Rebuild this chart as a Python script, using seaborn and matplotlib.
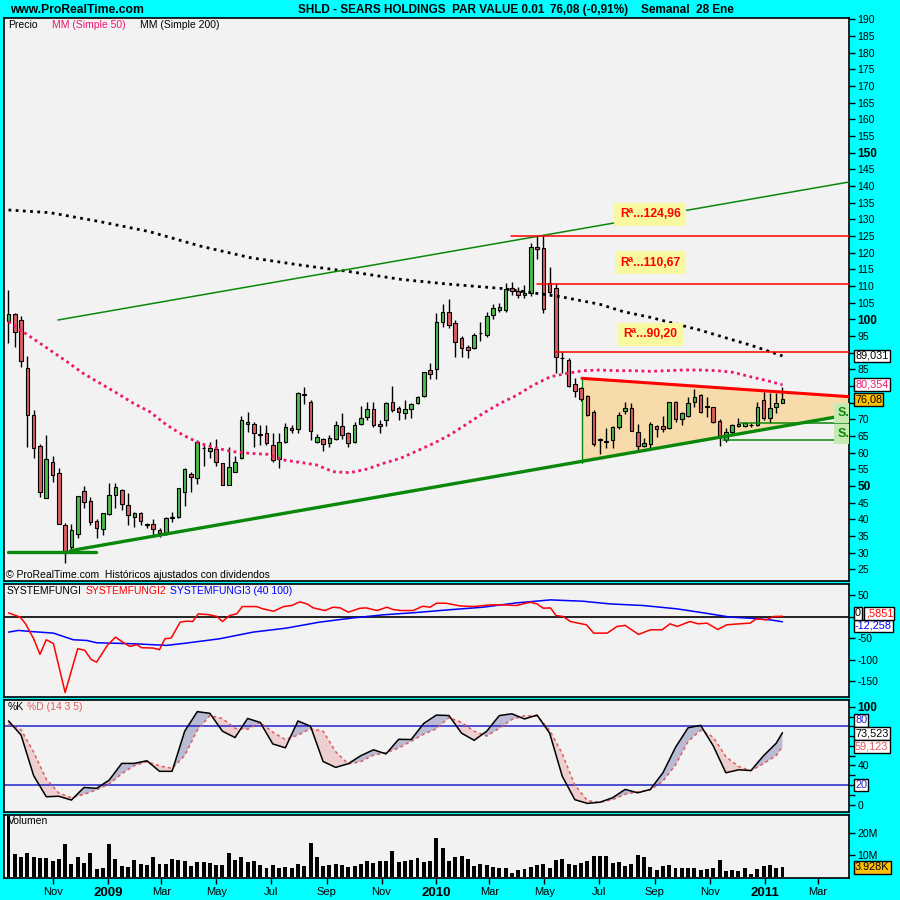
import numpy as np
import pandas as pd
import matplotlib
matplotlib.use("Agg")
import matplotlib.pyplot as plt
import matplotlib.dates as mdates
import seaborn as sns

# ---------------- data ----------------
first_week = "2008-09-12"

opens = [99.6, 101.6, 99.7, 85.3, 71.2, 62.0, 46.3, 57.3, 53.8, 38.2,
         31.8, 35.5, 48.5, 45.5, 39.5, 37.0, 41.5, 47.2, 48.7, 44.2,
         40.6, 41.8, 38.4, 38.5, 36.8, 35.8, 40.5, 40.8, 48.3, 53.5,
         52.3, 61.3, 60.5, 61.0, 56.8, 50.4, 54.1, 58.3, 68.5, 68.5,
         65.3, 65.8, 62.2, 58.1, 63.1, 67.3, 67.0, 77.4, 75.1, 63.3,
         64.0, 63.0, 64.0, 67.9, 65.8, 63.1, 68.5, 70.6, 73.0, 68.5,
         69.8, 75.2, 73.5, 71.8, 73.0, 74.8, 77.0, 84.8, 85.0, 99.3,
         102.1, 98.8, 94.3, 91.8, 91.3, 95.8, 95.3, 101.3, 102.8, 102.8,
         109.3, 108.6, 107.2, 107.8, 121.6, 121.3, 111.0, 109.3, 88.3, 87.8,
         80.5, 79.3, 77.1, 72.3, 63.8, 63.3, 63.8, 67.8, 72.5, 73.3,
         66.3, 62.1, 62.6, 68.0, 68.0, 67.3, 75.1, 70.0, 71.1, 75.1,
         77.3, 73.6, 73.6, 69.6, 63.8, 66.1, 68.0, 68.0, 68.2, 68.3,
         75.8, 70.3, 73.6, 75.0]
highs = [108.8, 101.8, 101.0, 89.0, 72.8, 62.6, 65.3, 59.0, 55.3, 39.0,
         38.5, 46.9, 50.0, 46.8, 40.0, 42.0, 50.8, 50.8, 49.0, 47.8,
         42.3, 42.3, 39.0, 40.0, 37.3, 40.6, 42.1, 49.3, 55.3, 54.3,
         63.8, 62.3, 63.3, 64.0, 56.8, 61.8, 58.9, 71.0, 72.2, 69.1,
         68.3, 68.2, 65.8, 65.8, 68.8, 68.2, 78.3, 79.6, 75.8, 65.6,
         64.3, 65.3, 69.5, 71.8, 66.3, 69.3, 74.0, 75.3, 75.3, 69.8,
         75.3, 80.0, 74.0, 75.8, 74.8, 77.0, 84.3, 86.8, 101.8, 104.5,
         106.0, 99.8, 95.0, 92.3, 96.0, 99.3, 102.3, 104.5, 104.8, 110.8,
         111.3, 109.8, 110.3, 122.8, 125.0, 125.2, 115.8, 110.8, 90.5, 88.3,
         82.3, 79.6, 77.3, 72.8, 64.3, 67.3, 68.0, 72.3, 75.3, 74.8,
         68.6, 64.3, 69.3, 68.2, 71.0, 75.3, 75.6, 72.3, 76.6, 79.0,
         77.6, 76.6, 73.8, 70.0, 67.3, 68.6, 70.3, 68.8, 69.0, 75.3,
         78.3, 77.8, 77.8, 79.8]
lows = [93.0, 91.8, 85.8, 61.8, 58.3, 46.8, 46.3, 51.3, 38.5, 27.0,
        30.6, 34.3, 43.5, 38.3, 34.3, 35.3, 41.3, 43.5, 42.8, 38.3,
        37.8, 38.3, 37.3, 34.8, 34.8, 35.3, 39.3, 40.3, 44.1, 48.3,
        50.6, 56.1, 58.3, 56.1, 50.2, 50.2, 54.1, 58.1, 66.3, 61.6,
        62.3, 62.3, 57.1, 55.5, 62.8, 66.0, 66.0, 74.6, 63.8, 62.8,
        60.6, 61.8, 63.8, 64.0, 61.8, 62.8, 68.3, 69.8, 67.8, 65.8,
        68.1, 72.3, 69.8, 70.0, 70.3, 74.6, 76.8, 82.1, 82.1, 97.6,
        97.5, 88.8, 88.8, 88.5, 91.0, 93.6, 94.8, 100.0, 102.3, 102.3,
        107.3, 106.5, 106.5, 107.0, 118.0, 102.0, 107.3, 84.0, 84.0, 79.8,
        76.8, 75.6, 71.0, 62.1, 59.6, 61.3, 61.3, 67.0, 71.6, 66.6,
        60.6, 61.6, 61.3, 64.6, 66.3, 67.0, 69.3, 68.3, 70.8, 73.6,
        72.0, 70.6, 69.0, 62.0, 63.3, 65.6, 67.8, 67.6, 67.8, 68.1,
        69.8, 69.0, 72.0, 74.8]
closes = [101.6, 96.3, 87.5, 71.2, 61.3, 48.1, 58.0, 53.2, 38.5, 30.6,
          36.8, 46.9, 45.3, 39.3, 37.3, 41.8, 47.2, 49.6, 44.5, 41.2,
          41.8, 39.5, 38.3, 37.0, 35.8, 40.3, 40.6, 49.3, 55.0, 52.8,
          63.1, 61.3, 61.3, 57.3, 50.2, 55.6, 57.1, 69.7, 69.1, 65.8,
          65.3, 62.8, 57.8, 63.1, 67.6, 66.8, 77.8, 77.4, 66.5, 64.6,
          62.5, 64.3, 68.2, 65.2, 62.8, 68.2, 70.3, 73.0, 68.2, 67.9,
          74.8, 72.8, 72.2, 73.0, 74.5, 76.6, 84.1, 83.5, 99.3, 102.3,
          98.3, 93.3, 91.3, 90.8, 95.3, 95.8, 101.0, 103.3, 103.8, 109.0,
          108.6, 107.3, 107.8, 121.8, 121.0, 103.0, 108.3, 88.8, 88.3, 80.0,
          78.6, 76.0, 71.3, 62.5, 63.8, 63.3, 67.8, 71.3, 73.3, 66.6,
          62.0, 62.8, 68.5, 67.0, 67.0, 75.3, 70.0, 71.8, 75.0, 76.6,
          72.1, 74.0, 69.3, 64.3, 66.3, 68.3, 68.6, 68.8, 68.2, 73.8,
          70.3, 73.3, 74.8, 76.08]
volume_m = [27.7, 10.5, 9.3, 10.9, 9.3, 8.7, 8.7, 7.5, 8.2, 14.9,
            6.0, 9.3, 6.4, 10.9, 3.7, 4.2, 14.9, 8.2, 5.2, 4.8,
            7.8, 6.0, 5.5, 9.3, 6.0, 6.0, 8.2, 7.8, 7.3, 5.2,
            7.0, 7.0, 6.6, 5.5, 5.5, 10.9, 7.8, 9.3, 7.0, 7.3,
            5.5, 4.3, 5.5, 4.3, 4.6, 4.2, 6.0, 5.1, 15.4, 9.3,
            5.1, 5.5, 6.0, 5.5, 4.6, 5.1, 6.0, 7.3, 6.4, 7.3,
            7.3, 11.8, 6.9, 7.3, 7.8, 8.7, 6.9, 7.3, 17.6, 13.2,
            7.3, 9.0, 9.4, 8.2, 5.1, 6.0, 5.5, 4.6, 4.2, 4.2,
            1.9, 3.3, 3.7, 4.6, 5.5, 6.0, 4.2, 7.8, 8.2, 6.0,
            5.5, 6.4, 7.3, 9.6, 9.6, 9.6, 6.6, 6.9, 5.1, 6.0,
            10.0, 9.1, 4.6, 3.3, 5.1, 5.5, 4.2, 4.2, 4.2, 4.2,
            3.3, 3.7, 4.2, 7.8, 2.8, 3.3, 2.8, 4.2, 1.5, 3.7,
            5.1, 5.5, 4.2, 4.6]

ma50_dates = ["2008-09-12", "2008-09-25", "2008-10-09", "2008-10-28", "2008-11-16",
              "2008-12-04", "2008-12-23", "2009-01-11", "2009-01-29", "2009-02-16",
              "2009-03-07", "2009-03-25", "2009-04-13", "2009-05-02", "2009-05-20",
              "2009-06-08", "2009-06-27", "2009-07-15", "2009-08-02", "2009-08-21",
              "2009-09-08", "2009-09-27", "2009-10-16", "2009-11-03", "2009-11-22",
              "2009-12-11", "2009-12-29", "2010-01-17", "2010-02-05", "2010-02-22",
              "2010-03-13", "2010-04-01", "2010-04-19", "2010-05-08", "2010-05-27",
              "2010-06-13", "2010-07-02", "2010-07-21", "2010-08-08", "2010-08-27",
              "2010-09-15", "2010-10-02", "2010-10-21", "2010-11-09", "2010-11-27",
              "2010-12-16", "2011-01-04", "2011-01-21"]
ma50_vals = [99.3, 96.8, 94.3, 90.8, 87.3, 83.8, 80.8, 77.8, 74.8, 72.3,
             68.3, 65.3, 62.8, 61.3, 60.3, 59.8, 59.5, 57.8, 57.1, 56.3,
             54.3, 54.0, 55.1, 56.8, 58.3, 60.6, 62.8, 65.5, 68.8, 71.8,
             74.8, 77.3, 80.3, 82.8, 83.8, 84.6, 84.8, 84.6, 84.6, 84.4,
             84.6, 84.8, 84.8, 84.6, 84.1, 82.8, 81.6, 80.35]
ma200_dates = ["2008-09-12", "2008-10-28", "2008-12-23", "2009-02-16", "2009-04-13",
               "2009-06-08", "2009-08-02", "2009-09-27", "2009-11-22", "2010-01-17",
               "2010-03-13", "2010-05-19", "2010-07-02", "2010-07-28", "2010-08-27",
               "2010-09-29", "2010-10-21", "2010-11-27", "2010-12-16", "2011-01-21"]
ma200_vals = [132.8, 132.0, 129.3, 126.3, 122.0, 118.5, 116.3, 114.3, 112.0, 110.5,
              109.3, 106.8, 104.5, 102.3, 100.6, 98.3, 96.8, 93.8, 92.3, 89.03]

sf2_dates = ["2008-09-12", "2008-09-25", "2008-10-01", "2008-10-10", "2008-10-17",
             "2008-10-24", "2008-11-01", "2008-11-14", "2008-11-28", "2008-12-06",
             "2008-12-13", "2008-12-19", "2008-12-31", "2009-01-09", "2009-01-18",
             "2009-01-25", "2009-02-02", "2009-02-07", "2009-02-20", "2009-02-27",
             "2009-03-05", "2009-03-12", "2009-03-22", "2009-03-29", "2009-04-05",
             "2009-04-11", "2009-04-24", "2009-05-02", "2009-05-08", "2009-05-16",
             "2009-05-24", "2009-05-30", "2009-06-15", "2009-06-22", "2009-07-04",
             "2009-07-15", "2009-07-24", "2009-08-02", "2009-08-10", "2009-08-17",
             "2009-08-30", "2009-09-08", "2009-09-16", "2009-09-25", "2009-10-08",
             "2009-10-15", "2009-10-27", "2009-11-07", "2009-11-14", "2009-11-22",
             "2009-12-06", "2009-12-17", "2009-12-25", "2010-01-01", "2010-01-12",
             "2010-01-27", "2010-02-11", "2010-03-02", "2010-03-17", "2010-03-31",
             "2010-04-15", "2010-04-23", "2010-04-30", "2010-05-08", "2010-05-14",
             "2010-05-22", "2010-05-30", "2010-06-17", "2010-06-25", "2010-07-10",
             "2010-07-21", "2010-07-30", "2010-08-14", "2010-08-27", "2010-09-09",
             "2010-09-18", "2010-09-26", "2010-10-10", "2010-10-19", "2010-10-29",
             "2010-11-10", "2010-11-20", "2010-12-04", "2010-12-16", "2010-12-23",
             "2011-01-03", "2011-01-11", "2011-01-21"]
sf2_vals = [8.5, -1.5, -17, -51.7, -88, -54, -63, -176.6, -74.8, -78.7,
            -100, -106, -67, -47.8, -61, -69.4, -65.6, -72.5, -73.3, -77,
            -51.7, -50, -13, -10.8, -11.6, 6.2, 3.9, 0, -11.6, 2.3,
            6.2, 23.1, 23.1, 17.7, 12.3, 23.1, 25.5, 34, 29.3, 20,
            13.9, 21.6, 20, 10, 19.2, 20, 13.9, 21.6, 16.2, 13.9,
            13.9, 23.9, 21.6, 30.8, 30.8, 24.7, 23.1, 27, 27, 25.5,
            33.2, 29.3, 19.2, 20, 2.3, 0, -11.6, -19.3, -38.6, -38.6,
            -23.1, -20.8, -41.7, -30.9, -30.9, -17, -23.1, -11.6, -17, -15.4,
            -30.1, -19.3, -17, -15.4, -5.4, -7.7, 0, 0.59]
sf3_dates = ["2008-09-12", "2008-09-23", "2008-10-06", "2008-11-01", "2008-11-23",
             "2008-12-08", "2008-12-19", "2009-01-29", "2009-03-07", "2009-03-29",
             "2009-05-05", "2009-06-11", "2009-07-18", "2009-08-24", "2009-10-01",
             "2009-11-03", "2009-12-10", "2010-01-14", "2010-02-22", "2010-03-31",
             "2010-05-08", "2010-06-13", "2010-07-13", "2010-08-19", "2010-09-26",
             "2010-10-25", "2010-11-24", "2010-12-16", "2011-01-07", "2011-01-21"]
sf3_vals = [-36.3, -32.4, -34.7, -38.6, -54, -55.6, -61, -63.3, -67.1, -61.7,
            -51.7, -36.3, -27, -13.1, -3.1, 3.9, 9.3, 15.4, 21.6, 31.6,
            38.6, 35.5, 29.3, 25.5, 17.7, 8.5, -1.5, -3.9, -7.7, -12.26]

# stochastic, sampled every second week (plus last week)
stoch_k = [85.5, 71, 29.5, 8, 8.5, 4.6, 17.5, 16.6, 25, 42.1,
           42.1, 44.8, 34, 34, 75, 95, 93.3, 75, 68.5, 88,
           84, 62, 58, 85.5, 80, 44, 38, 41.8, 50, 56,
           51.8, 66.7, 66.5, 83, 91.5, 91, 73, 65.7, 75, 91,
           92.8, 87.5, 91.5, 73, 29, 5, 1.2, 2.4, 7, 15.5,
           12, 15.5, 32.5, 58.5, 78.5, 81, 60, 32.5, 35.5, 34.8,
           50, 62.7, 73.5]
stoch_d = [82, 76.4, 53.7, 26, 11.7, 7, 10.5, 15, 21, 31.6,
           39.8, 43.8, 39.5, 37, 50, 76, 91, 88, 78, 77,
           84, 74, 66.5, 71, 77.5, 75, 54, 41.5, 44, 50.6,
           53, 57.8, 64.8, 72, 77.5, 89, 84, 75, 70, 78,
           87, 90.8, 90.5, 76, 52, 20, 4, 2.3, 5, 10.5,
           13, 15, 24, 40.5, 64.5, 76, 69, 49, 39, 34.5,
           42, 50, 59.1]

# drawn trend lines / levels
upper_channel_dates, upper_channel_vals = ["2008-11-06", "2011-04-05"], [99.8, 141.2]
base_dates, base_vals = ["2008-09-12", "2008-12-18"], [30.3, 30.3]
support_dates, support_vals = ["2008-11-20", "2011-04-05"], [30.6, 71.4]
resist_dates, resist_vals = ["2010-06-12", "2011-04-05"], [82.3, 76.8]
tri_dates = ["2010-06-12", "2010-06-12", "2011-04-05", "2011-04-05"]
tri_vals = [82.3, 57.0, 71.4, 76.8]
r_levels = [124.96, 110.67, 90.20]
r_starts = ["2010-03-25", "2010-04-23", "2010-05-13"]
r_texts = ["Rª...124,96", "Rª...110,67", "Rª...90,20"]
r_label_y = [131.5, 117.0, 95.5]
s_levels = [68.8, 63.7]
s_starts = ["2010-12-05", "2010-11-16"]
s_texts = ["S.", "S."]
s_label_y = [71.9, 65.6]

month_ticks = ["2008-11-01", "2009-01-01", "2009-03-01", "2009-05-01", "2009-07-01",
               "2009-09-01", "2009-11-01", "2010-01-01", "2010-03-01", "2010-05-01",
               "2010-07-01", "2010-09-01", "2010-11-01", "2011-01-01", "2011-03-01"]
month_labels = ["Nov", "2009", "Mar", "May", "Jul", "Sep", "Nov", "2010", "Mar", "May",
                "Jul", "Sep", "Nov", "2011", "Mar"]

# ---------------- style ----------------
sns.set_style("white")
plt.rcParams['font.family'] = ['Liberation Sans', 'DejaVu Sans']

CYAN = '#00FFFF'
PANEL = '#F2F2F2'
GREEN_C = '#4CBB4C'
RED_C = '#D96060'
PINK = '#F0146E'
DGREEN = '#0A880A'


def d2n(d):
    return mdates.date2num(pd.to_datetime(d))


def fx(px):
    return px / 900


def fy(py):
    return 1 - py / 900


def value_box(ax, y, txt, color, fc='white', dx=0.0, z=8):
    ax.text(bx + dx, y, txt, transform=ax.get_yaxis_transform(), ha='left',
            va='center', fontsize=7.8, color=color, clip_on=False, zorder=z,
            bbox=dict(boxstyle='square,pad=0.12', fc=fc, ec='black', lw=1))


dates = pd.date_range(first_week, periods=len(closes), freq='7D')
xd = mdates.date2num(dates)
o, h, l, c = map(np.array, (opens, highs, lows, closes))

fig = plt.figure(figsize=(9, 9), dpi=100, facecolor=CYAN)
left, width = fx(4), fx(845)
ax1 = fig.add_axes([left, fy(581), width, 563 / 900])
ax2 = fig.add_axes([left, fy(697), width, 113 / 900])
ax3 = fig.add_axes([left, fy(812), width, 112 / 900])
ax4 = fig.add_axes([left, fy(878.3), width, 63.6 / 900])
bx = (855 - 4) / 845

xmin, xmax = d2n("2008-09-07"), d2n("2011-04-05")
for ax in (ax1, ax2, ax3, ax4):
    ax.set_facecolor(PANEL)
    ax.set_xlim(xmin, xmax)
    for s in ax.spines.values():
        s.set_color('black')
        s.set_linewidth(1.2)
    ax.yaxis.tick_right()
    ax.tick_params(axis='y', which='both', direction='out', length=4, width=1,
                   pad=2, labelsize=7.5, right=True, left=False, colors='black')
    ax.tick_params(axis='x', bottom=False, labelbottom=False)
    ax.set_xlabel('')
    ax.set_ylabel('')

# ---------------- main price panel ----------------
ax1.set_ylim(21.5, 190.4)
ax1.fill(d2n(tri_dates), tri_vals, color='#F8DBAA', zorder=1, lw=0)
ax1.plot(d2n([tri_dates[0], tri_dates[1]]), tri_vals[:2], color=DGREEN, lw=1, zorder=2)

ax1.vlines(xd, l, h, color='black', lw=1, zorder=3)
body_col = np.where(np.abs(c - o) < 0.35, 'black', np.where(c >= o, GREEN_C, RED_C))
ax1.bar(xd, np.maximum(np.abs(c - o), 0.25), bottom=np.minimum(o, c), width=4.0,
        color=body_col, edgecolor='black', linewidth=0.8, zorder=4)

sns.lineplot(x=d2n(ma200_dates), y=ma200_vals, ax=ax1, color='black', lw=2,
             linestyle=(0, (1, 1.6)), zorder=5, legend=False)
sns.lineplot(x=d2n(ma50_dates), y=ma50_vals, ax=ax1, color=PINK, lw=2,
             linestyle=(0, (1, 1.3)), zorder=5, legend=False)

ax1.plot(d2n(upper_channel_dates), upper_channel_vals, color=DGREEN, lw=1.1, zorder=5)
ax1.plot(d2n(base_dates), base_vals, color=DGREEN, lw=2.4, zorder=5)
ax1.plot(d2n(support_dates), support_vals, color=DGREEN, lw=2.4, zorder=5)
ax1.plot(d2n(resist_dates), resist_vals, color='#FF0000', lw=2.2, zorder=5)
for lev, st in zip(r_levels, r_starts):
    ax1.plot([d2n(st), xmax], [lev, lev], color='#FF0000', lw=1.1, zorder=5)
for lev, st in zip(s_levels, s_starts):
    ax1.plot([d2n(st), xmax], [lev, lev], color=DGREEN, lw=1.1, zorder=5)

for txt, yv in zip(r_texts, r_label_y):
    ax1.text(d2n("2010-08-27"), yv, txt, ha='center', va='center', color='#FF0000',
             fontsize=8.7, fontweight='bold', zorder=7,
             bbox=dict(boxstyle='square,pad=0.45', fc='#F8F8A0', ec='none'))
for txt, yv in zip(s_texts, s_label_y):
    ax1.text(d2n("2011-03-23"), yv, txt, ha='left', va='center', color=DGREEN,
             fontsize=9, fontweight='bold', zorder=7, clip_on=True,
             bbox=dict(boxstyle='square,pad=0.3', fc='#C6EBB0', ec='none'))

ax1.set_yticks(np.arange(25, 191, 5))
# 75, 80 and 90 sit under the value boxes on the original
ax1.set_yticklabels(['' if v in (75, 80, 90) else str(v) for v in range(25, 191, 5)])
for lab in ax1.get_yticklabels():
    if lab.get_text() in ('50', '100', '150'):
        lab.set_fontweight('bold')
        lab.set_fontsize(8.5)

value_box(ax1, 89.03, "89,031", 'black')
value_box(ax1, 80.45, "80,354", PINK)
value_box(ax1, 75.95, "76,08", 'black', fc='#FFC000', z=9)

fig.text(fx(8), fy(24.7), "Precio", fontsize=7.5, va='center', color='black')
fig.text(fx(51.5), fy(24.7), "MM (Simple 50)", fontsize=7.5, va='center', color=PINK)
fig.text(fx(140.5), fy(24.7), "MM (Simple 200)", fontsize=7.5, va='center', color='black')
fig.text(fx(6), fy(575.5), "© ProRealTime.com  Históricos ajustados con dividendos",
         fontsize=7.5, va='center', color='black')

# ---------------- SYSTEMFUNGI panel ----------------
ax2.set_ylim(-187, 75.5)
ax2.axhline(0, color='black', lw=1.2, zorder=2)
sns.lineplot(x=d2n(sf3_dates), y=sf3_vals, ax=ax2, color='#0000FF', lw=1.1,
             zorder=3, legend=False)
sns.lineplot(x=d2n(sf2_dates), y=sf2_vals, ax=ax2, color='#FF0000', lw=1.1,
             zorder=4, legend=False)
ax2.set_yticks([50, 0, -50, -100, -150])
ax2.set_yticklabels(['50', '', '-50', '-100', '-150'])
value_box(ax2, -22, "-12,258", '#0000FF', z=7)
value_box(ax2, 7, "0", 'black', z=9)
value_box(ax2, 7, ",5851", '#FF0000', dx=0.0125, z=8)
fig.text(fx(7), fy(591), "SYSTEMFUNGI", fontsize=7.5, va='center', color='black')
fig.text(fx(86), fy(591), "SYSTEMFUNGI2", fontsize=7.5, va='center', color='#FF0000')
fig.text(fx(170), fy(591), "SYSTEMFUNGI3 (40 100)", fontsize=7.5, va='center',
         color='#0000FF')

# ---------------- stochastic panel ----------------
ax3.set_ylim(-7.6, 106.9)
sx = mdates.date2num(dates[list(range(0, len(closes), 2)) + [len(closes) - 1]])
k, d = np.array(stoch_k), np.array(stoch_d)
ax3.fill_between(sx, k, d, where=k >= d, interpolate=True, color='#B9BAD3', lw=0, zorder=1)
ax3.fill_between(sx, k, d, where=k < d, interpolate=True, color='#EECFCF', lw=0, zorder=1)
ax3.axhline(80, color='#2222CC', lw=1.1, zorder=2)
ax3.axhline(20, color='#2222CC', lw=1.1, zorder=2)
sns.lineplot(x=sx, y=d, ax=ax3, color='#E05A5A', lw=1.1, linestyle=(0, (2, 2)),
             zorder=3, legend=False)
sns.lineplot(x=sx, y=k, ax=ax3, color='black', lw=1.1, zorder=4, legend=False)
ax3.set_yticks(np.arange(0, 101, 10))
ax3.set_yticklabels(['0', '', '', '', '40', '', '', '', '', '', '100'])
ax3.get_yticklabels()[-1].set_fontweight('bold')
ax3.get_yticklabels()[-1].set_fontsize(8.5)
value_box(ax3, 86.0, "80", '#2222CC', z=7)
value_box(ax3, 20, "20", '#2222CC', z=7)
value_box(ax3, 72.8, "73,523", 'black')
value_box(ax3, 59.4, "59,123", '#E05A5A')
fig.text(fx(8), fy(706.7), "%K", fontsize=7.5, va='center', color='black')
fig.text(fx(27), fy(706.7), "%D (14 3 5)", fontsize=7.5, va='center', color='#E05A5A')

# ---------------- volume panel ----------------
ax4.set_ylim(-0.45, 28.1)
ax4.bar(xd, volume_m, width=4.4, color='black', lw=0, zorder=3)
ax4.set_yticks([10, 20])
ax4.set_yticklabels(['10M', '20M'])
value_box(ax4, 4.4, "3.928K", 'black', fc='#FFC000')
fig.text(fx(8), fy(821), "Volumen", fontsize=7.5, va='center', color='black')

ax4.set_xticks(d2n(month_ticks))
ax4.set_xticklabels(month_labels)
ax4.tick_params(axis='x', bottom=True, labelbottom=True, direction='out', length=4,
                width=1, pad=2, labelsize=8, colors='black')
for lab in ax4.get_xticklabels():
    if lab.get_text().isdigit():
        lab.set_fontweight('bold')
        lab.set_fontsize(9.5)

# ---------------- header ----------------
fig.text(fx(10), fy(10), "www.ProRealTime.com", fontsize=8.7, fontweight='bold',
         va='center', color='black')
fig.text(fx(298), fy(10), "SHLD - SEARS HOLDINGS  PAR VALUE 0.01", fontsize=8.5,
         fontweight='bold', va='center', color='black')
fig.text(fx(550), fy(10), "76,08 (-0,91%)", fontsize=8.5, fontweight='bold',
         va='center', color='black')
fig.text(fx(641), fy(10), "Semanal  28 Ene", fontsize=8.5, fontweight='bold',
         va='center', color='black')

fig.savefig("out.png", dpi=100, facecolor=CYAN)
